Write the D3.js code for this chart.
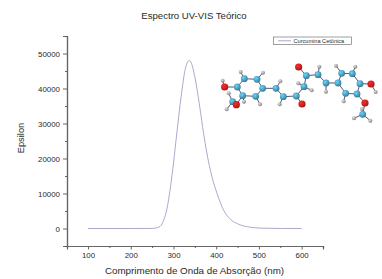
<!DOCTYPE html>
<html>
<head>
<meta charset="utf-8">
<script src="https://cdn.jsdelivr.net/npm/d3@7"></script>
<style>
html, body { margin: 0; padding: 0; background: #fff; }
svg { display: block; }
text { font-family: "Liberation Sans", Arial, sans-serif; fill: #2a2a2a; }
</style>
</head>
<body>
<div id="chart"></div>
<script>
//spectrum
const wavelengths = [100, 200, 250, 257, 269, 277, 285, 293, 300, 308, 318, 328, 333, 337, 341, 345, 353.5, 362, 370, 378.5, 390, 402, 417.5, 433, 452, 480, 505, 550, 600];
const epsilon = [0, 0, 20, 100, 650, 2370, 5800, 11900, 18700, 27500, 37800, 45800, 47600, 48000, 47500, 46000, 41000, 34300, 27500, 21300, 14800, 10000, 5200, 2670, 1230, 370, 100, 10, 0];

const xMajor = [100, 200, 300, 400, 500, 600];
const xMinor = [150, 250, 350, 450, 550, 650];
const yMajor = [0, 10000, 20000, 30000, 40000, 50000];
const yMinor = [-5000, 5000, 15000, 25000, 35000, 45000, 55000];

const seriesName = "Curcumina Cetônica";

//molecule picture, atoms as [element, x, y] in its own units
const atoms = [
    ["C",142,201],["C",163,176],["C",201,178],["C",218,205],["C",197,229],["C",158,227],
    ["C",258,205],["C",280,230],["C",319,228],["C",342,200],["C",349,167],["C",384,164],["C",408,189],
    ["C",444,189],["C",455,160],["C",487,161],["C",510,191],["C",501,222],["C",467,220],
    ["C",128,245],["C",518,283],
    ["O",104,201],["O",139,254],["O",336,252],["O",326,141],["O",543,192],["O",525,249],
    ["H",98,182],["H",152,156],["H",219,158],["H",271,184],["H",210,253],["H",269,253],
    ["H",162,245],["H",116,220],["H",110,268],["H",325,190],["H",365,211],["H",388,140],
    ["H",408,215],["H",438,137],["H",496,140],["H",461,244],["H",557,216],["H",492,295],["H",541,302],["H",516,267]
];
const bonds = [
    [0,1],[1,2],[2,3],[3,4],[4,5],[5,0],[3,6],[6,7],[7,8],[8,9],[9,10],[10,11],[11,12],[12,13],
    [13,14],[14,15],[15,16],[16,17],[17,18],[18,13],[0,21],[5,22],[19,22],[8,23],[10,24],[16,25],[17,26],[20,26],
    [21,27],[1,28],[2,29],[6,30],[4,31],[7,32],[5,33],[19,34],[19,35],[9,36],[9,37],[11,38],
    [12,39],[14,40],[15,41],[18,42],[25,43],[20,44],[20,45],[20,46]
];

const width = 382;
const height = 279;
const margins = { top: 36, right: 59, bottom: 33, left: 67 };

const svg = d3.select("#chart").append("svg")
    .attr("width", width)
    .attr("height", height);

const x = d3.scaleLinear().domain([50.7, 650]).range([margins.left, width - margins.right]);
const y = d3.scaleLinear().domain([-5000, 55000]).range([height - margins.bottom, margins.top]);

//x axis, major then minor ticks
const xAxis = svg.append("g")
    .attr("transform", "translate(0," + (height - margins.bottom) + ")")
    .call(d3.axisBottom(x).tickValues(xMajor).tickSize(3.5).tickPadding(2.5).tickFormat(d3.format("d")));
const xAxisMinor = svg.append("g")
    .attr("transform", "translate(0," + (height - margins.bottom) + ")")
    .call(d3.axisBottom(x).tickValues(xMinor).tickSize(2).tickFormat(""));

//y axis
const yAxis = svg.append("g")
    .attr("transform", "translate(" + margins.left + ",0)")
    .call(d3.axisLeft(y).tickValues(yMajor).tickSize(4).tickPadding(3).tickFormat(d3.format("d")));
const yAxisMinor = svg.append("g")
    .attr("transform", "translate(" + margins.left + ",0)")
    .call(d3.axisLeft(y).tickValues(yMinor).tickSize(2).tickFormat(""));

[xAxis, xAxisMinor, yAxis, yAxisMinor].forEach(a => {
    a.selectAll("path").attr("stroke", "#666").attr("stroke-width", 1.2);
    a.selectAll("line").attr("stroke", "#555").attr("stroke-width", 0.9);
    a.selectAll("text").style("font-size", "7.9px").style("font-family", "Liberation Sans").attr("fill", "#333");
});

//titles
svg.append("text")
    .attr("text-anchor", "middle")
    .attr("x", 194)
    .attr("y", 19)
    .style("font-size", "9.6px")
    .text("Espectro UV-VIS Teórico");

svg.append("text")
    .attr("text-anchor", "middle")
    .attr("x", 194.5)
    .attr("y", 274)
    .style("font-size", "9.8px")
    .text("Comprimento de Onda de Absorção (nm)");

svg.append("text")
    .attr("text-anchor", "middle")
    .attr("transform", "rotate(-90)")
    .attr("x", -138)
    .attr("y", 24)
    .style("font-size", "9.3px")
    .text("Epsilon");

//spectrum
const line = d3.line()
    .x((d, i) => x(wavelengths[i]))
    .y(d => y(d))
    .curve(d3.curveMonotoneX);

svg.append("path")
    .datum(epsilon)
    .attr("fill", "none")
    .attr("stroke", "#a79cc6")
    .attr("stroke-width", 0.9)
    .attr("d", line);

//legend
const legend = svg.append("g").attr("class", "legend");
legend.append("rect")
    .attr("x", 273.5)
    .attr("y", 37)
    .attr("width", 78)
    .attr("height", 7.5)
    .attr("fill", "#fff")
    .attr("stroke", "#777")
    .attr("stroke-width", 0.7);
legend.append("line")
    .attr("x1", 278)
    .attr("x2", 291)
    .attr("y1", 40.8)
    .attr("y2", 40.8)
    .attr("stroke", "#a79cc6")
    .attr("stroke-width", 0.9);
legend.append("text")
    .attr("x", 293.5)
    .attr("y", 43)
    .style("font-size", "5.6px")
    .text(seriesName);

//molecule
const atomColours = { C: "#4a9cbc", O: "#c8201c", H: "#a4a4a4" };
const atomSize = { C: 3.4, O: 3.6, H: 2 };
const mx = d3.scaleLinear().domain([0, 192]).range([190, 382]);
const my = d3.scaleLinear().domain([0, 130]).range([20, 150]);
const mScale = 1 / 3;

const defs = svg.append("defs");
Object.keys(atomColours).forEach(k => {
    const g = defs.append("radialGradient").attr("id", "ball" + k)
        .attr("cx", "38%").attr("cy", "35%").attr("r", "70%");
    g.append("stop").attr("offset", "0%").attr("stop-color", d3.color(atomColours[k]).brighter(0.9));
    g.append("stop").attr("offset", "60%").attr("stop-color", atomColours[k]);
    g.append("stop").attr("offset", "100%").attr("stop-color", d3.color(atomColours[k]).darker(0.9));
});

const mol = svg.append("g").attr("class", "molecule");
mol.selectAll("line")
    .data(bonds)
    .enter()
    .append("line")
    .attr("x1", d => mx(atoms[d[0]][1] * mScale))
    .attr("y1", d => my(atoms[d[0]][2] * mScale))
    .attr("x2", d => mx(atoms[d[1]][1] * mScale))
    .attr("y2", d => my(atoms[d[1]][2] * mScale))
    .attr("stroke", "#5a5570")
    .attr("stroke-width", 1);

mol.selectAll("circle")
    .data(atoms.slice().sort((a, b) => (a[0] === "H" ? 0 : 1) - (b[0] === "H" ? 0 : 1)))
    .enter()
    .append("circle")
    .attr("cx", d => mx(d[1] * mScale))
    .attr("cy", d => my(d[2] * mScale))
    .attr("r", d => atomSize[d[0]])
    .attr("fill", d => "url(#ball" + d[0] + ")");
</script>
</body>
</html>
